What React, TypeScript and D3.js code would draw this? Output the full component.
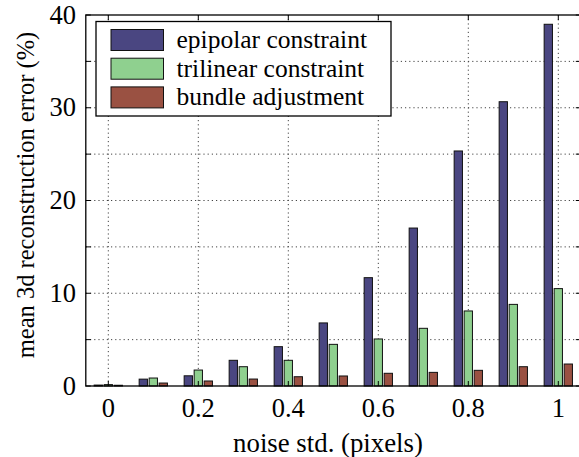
import React from "react"
import * as d3 from "d3"

const noise = [0, 0.1, 0.2, 0.3, 0.4, 0.5, 0.6, 0.7, 0.8, 0.9, 1.0]
const epipolar = [0.1, 0.74, 1.1, 2.77, 4.24, 6.8, 11.68, 17.03, 25.34, 30.65, 39.0]
const trilinear = [0.15, 0.86, 1.72, 2.08, 2.77, 4.49, 5.07, 6.22, 8.09, 8.8, 10.5]
const bundle = [0.08, 0.32, 0.54, 0.75, 1.0, 1.08, 1.37, 1.47, 1.69, 2.08, 2.37]

const seriesNames = ["epipolar constraint", "trilinear constraint", "bundle adjustment"]
const seriesColors = ["#4a4681", "#8fd08f", "#9a5142"]
const xTicks = [0, 0.2, 0.4, 0.6, 0.8, 1]
const yTicks = [0, 5, 10, 15, 20, 25, 30, 35, 40]
const yLabels = [0, 10, 20, 30, 40]

const W = 579
const H = 457
const font = "Liberation Serif"

const App = () => {
  const x = d3.scaleLinear().domain([-0.05, 1.05]).range([85.8, 580.8])
  const y = d3.scaleLinear().domain([0, 40]).range([386, 15])
  const sub = d3.scaleBand().domain(seriesNames).range([-14.15, 14.15]).paddingInner(0.17)
  const data = [epipolar, trilinear, bundle]

  const [x0, x1] = x.range()
  const [yb, yt] = y.range()

  return (
    <svg width={W} height={H} style={{ position: "absolute", left: 0, top: 0, background: "#fff", fontFamily: font }}>
      {/* grid */}
      {xTicks.map((t) => (
        <line key={"gx" + t} x1={x(t)} x2={x(t)} y1={yt} y2={yb} stroke="#444" strokeWidth={1} strokeDasharray="1.2,3" />
      ))}
      {yTicks.filter((t) => t > 0 && t < 40).map((t) => (
        <line key={"gy" + t} x1={x0} x2={x1} y1={y(t)} y2={y(t)} stroke="#444" strokeWidth={1} strokeDasharray="1.2,3" />
      ))}

      {/* bars */}
      {data.map((vals, si) =>
        vals.map((v, i) => (
          <rect
            key={si + "-" + i}
            x={x(noise[i]) + (sub(seriesNames[si]) as number)}
            y={y(v)}
            width={sub.bandwidth()}
            height={yb - y(v)}
            fill={seriesColors[si]}
            stroke="#111"
            strokeWidth={1}
          />
        ))
      )}

      {/* frame and ticks */}
      <rect x={x0} y={yt} width={x1 - x0} height={yb - yt} fill="none" stroke="#000" strokeWidth={1.3} />
      {yTicks.map((t) => (
        <g key={"ty" + t}>
          <line x1={x0} x2={x0 + 5} y1={y(t)} y2={y(t)} stroke="#000" />
          <line x1={x1 - 5} x2={x1} y1={y(t)} y2={y(t)} stroke="#000" />
        </g>
      ))}
      {xTicks.map((t) => (
        <g key={"tx" + t}>
          <line x1={x(t)} x2={x(t)} y1={yb} y2={yb - 5} stroke="#000" />
          <line x1={x(t)} x2={x(t)} y1={yt} y2={yt + 5} stroke="#000" />
        </g>
      ))}

      {/* tick labels */}
      {yLabels.map((t) => (
        <text key={"ly" + t} x={76} y={y(t) + 8.5} textAnchor="end" fontSize={26.5}>
          {t}
        </text>
      ))}
      {xTicks.map((t) => (
        <text key={"lx" + t} x={x(t)} y={417} textAnchor="middle" fontSize={26.5}>
          {d3.format("~g")(t)}
        </text>
      ))}

      {/* axis labels */}
      <text x={328} y={451.5} textAnchor="middle" fontSize={26.8}>
        noise std. (pixels)
      </text>
      <text transform={`translate(34,195) rotate(-90)`} textAnchor="middle" fontSize={24.5}>
        mean 3d reconstruction error (%)
      </text>

      {/* legend */}
      <rect x={96} y={21.5} width={295} height={94.5} fill="#fff" stroke="#000" strokeWidth={1.3} />
      {seriesNames.map((name, i) => (
        <g key={name} transform={`translate(0,${i * 28.7})`}>
          <rect x={111} y={29.5} width={52.5} height={21} fill={seriesColors[i]} stroke="#111" strokeWidth={1} />
          <text x={176.5} y={48} fontSize={25.5}>
            {name}
          </text>
        </g>
      ))}
    </svg>
  )
}

export default App
